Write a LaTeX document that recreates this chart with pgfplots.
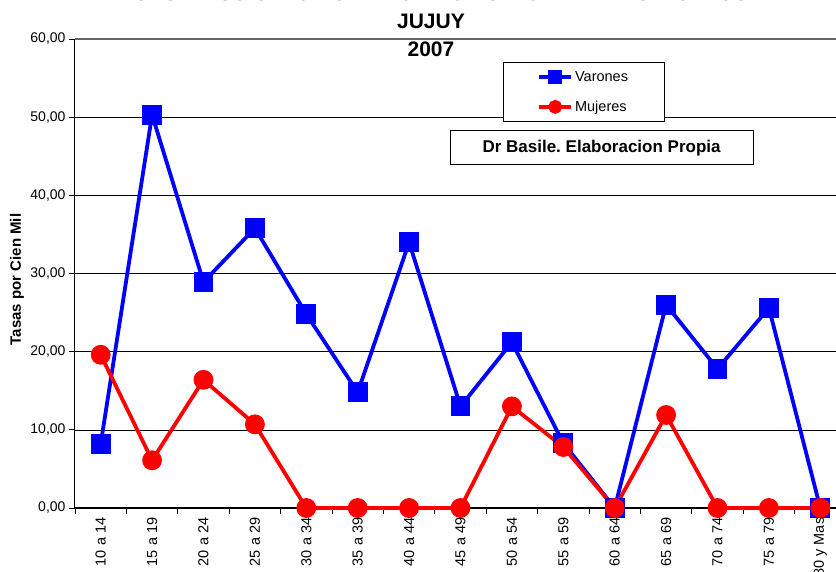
\documentclass[border=0pt]{standalone}
\usepackage{pgfplots}
\pgfplotsset{compat=1.18}
\usepackage{fontspec}
\setmainfont{Liberation Sans}
\frenchspacing
\definecolor{vblue}{RGB}{0,0,255}
\definecolor{mred}{RGB}{255,0,0}
\begin{document}
\begin{tikzpicture}[x=1pt,y=1pt]
\begin{axis}[
  at={(75pt,64pt)}, anchor=south west,
  scale only axis, width=771pt, height=469pt,
  xmin=-0.5, xmax=14.5, ymin=0, ymax=60,
  clip=false,
  axis x line=bottom, axis y line=left,
  axis line style={-, black, line width=1pt},
  xtick={0,1,...,14},
  xticklabels={10 a 14,15 a 19,20 a 24,25 a 29,30 a 34,35 a 39,40 a 44,45 a 49,50 a 54,55 a 59,60 a 64,65 a 69,70 a 74,75 a 79,80 y Mas},
  minor xtick={-0.5,0.5,...,14.5},
  major x tick style={draw=none},
  minor x tick style={black, line width=0.8pt},
  tick align=outside,
  minor tick length=6pt,
  major tick length=6pt,
  ytick={0,10,...,60},
  ytick style={black, line width=0.8pt},
  ymajorgrids,
  grid style={black, line width=0.6pt},
  xticklabel style={rotate=90, anchor=east, font=\fontsize{14.5}{16}\selectfont, inner sep=3.5pt},
  yticklabel style={font=\fontsize{14}{16}\selectfont, /pgf/number format/.cd, fixed, fixed zerofill, precision=2, use comma, assume math mode=true},
  ylabel={\bfseries Tasas por Cien Mil},
  ylabel style={font=\fontsize{15}{17}\selectfont\bfseries, at={(rel axis cs:0,0.5)}, anchor=center, yshift=58pt, xshift=-6pt},
  legend style={at={(rel axis cs:0.555,0.951)}, anchor=north west, draw=black, line width=0.8pt,
    font=\fontsize{14.5}{16}\selectfont, inner xsep=34pt, inner ysep=7pt, row sep=14pt,
    cells={anchor=west}},
  legend image code/.code={\draw[mark repeat=2,mark phase=2,#1] plot coordinates {(0pt,0pt) (16pt,0pt) (32pt,0pt)};},
  legend image post style={mark size=5pt},
]
\addplot[vblue, line width=3.8pt, mark=square*, mark size=8pt, mark options={solid}] coordinates {
(0,8.2) (1,50.3) (2,28.9) (3,35.8) (4,24.8) (5,14.8) (6,34.0) (7,13.0) (8,21.2) (9,8.3) (10,0) (11,26.0) (12,17.8) (13,25.6) (14,0)};
\addlegendentry{Varones}
\addplot[mred, line width=3.8pt, mark=*, mark size=8pt, mark options={solid}] coordinates {
(0,19.6) (1,6.1) (2,16.4) (3,10.7) (4,0) (5,0) (6,0) (7,0) (8,13.0) (9,7.8) (10,0) (11,11.9) (12,0) (13,0) (14,0)};
\addlegendentry{Mujeres}
\draw[gray!80!black, line width=1.5pt] (rel axis cs:0,1) -- (rel axis cs:1,1);
\node[draw=black, line width=0.8pt, fill=white, minimum width=303pt, minimum height=34pt, font=\fontsize{17}{19}\selectfont\bfseries] at (rel axis cs:0.683,0.768) {Dr Basile. Elaboracion Propia};
\end{axis}
\node[font=\fontsize{21}{28}\selectfont\bfseries, align=center] at (431pt,551pt) {TASAS DE SUICIDIO POR PROVINCIAS. POR EDADES Y SEXOS.\\JUJUY\\2007};
\pgfresetboundingbox
\useasboundingbox (0pt,0pt) rectangle (836pt,572pt);
\end{tikzpicture}
\end{document}
